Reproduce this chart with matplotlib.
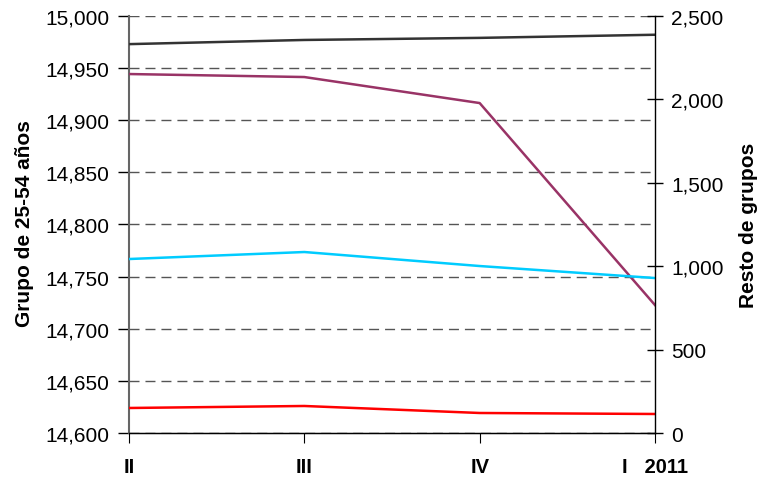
import matplotlib
matplotlib.use("Agg")
import matplotlib.pyplot as plt

plt.rcParams['font.family'] = ['Liberation Sans', 'DejaVu Sans']

# Data
quarters = ['II', 'III', 'IV', 'I']
year_label = '2011'
grupo_25_54 = [14973, 14977, 14979, 14982]      # left axis
resto_purple = [2152, 2134, 1978, 767]          # right axis
resto_cyan = [1043, 1085, 1001, 929]
resto_red = [150, 162, 120, 114]

fig = plt.figure(figsize=(7.61, 4.81), dpi=100)
ax = fig.add_axes([0.1695, 0.0977, 0.8607 - 0.1695, 0.9647 - 0.0977])
ax2 = ax.twinx()

x = range(len(quarters))
ax.plot(x, grupo_25_54, color='#333333', lw=1.8, zorder=3)
ax2.plot(x, resto_purple, color='#993366', lw=1.8)
ax2.plot(x, resto_cyan, color='#00CCFF', lw=1.8)
ax2.plot(x, resto_red, color='#FF0000', lw=1.8)

ax.set_xlim(0, len(quarters) - 1)
ax.set_ylim(14600, 15000)
ax.set_yticks(range(14600, 15001, 50))
ax.set_yticklabels([f'{v:,}' for v in range(14600, 15001, 50)])
ax2.set_ylim(0, 2500)
ax2.set_yticks(range(0, 2501, 500))
ax2.set_yticklabels([f'{v:,}' for v in range(0, 2501, 500)])

# last quarter carries the year in the same label
xlabels = quarters[:-1] + [f'{quarters[-1]}   {year_label}']
ax.set_xticks(list(x))
ax.set_xticklabels(xlabels, fontsize=14.5, fontweight='bold')

ax.grid(axis='y', linestyle=(0, (7.2, 4.3)), color='#555555', lw=1)
ax.tick_params(axis='y', labelsize=15, length=8, width=1, direction='out', pad=6)
ax.tick_params(axis='x', length=7, width=0.8, direction='out', pad=10.5)
ax2.tick_params(axis='y', labelsize=15, length=11, width=1, direction='inout', pad=6)

for a in (ax, ax2):
    a.spines['top'].set_visible(False)
ax.spines['left'].set_color('#666666')
ax.spines['left'].set_linewidth(1.5)
ax2.spines['left'].set_visible(False)
ax.spines['right'].set_visible(False)
ax2.spines['right'].set_linewidth(1)
ax.spines['bottom'].set_linewidth(1)

ax.set_ylabel('Grupo de 25-54 años', fontsize=15, fontweight='bold')
ax.yaxis.set_label_coords(-0.18, 0.504)
ax2.set_ylabel('Resto de grupos', fontsize=15, fontweight='bold')
ax2.yaxis.set_label_coords(1.16, 0.5)

fig.savefig('out.png', dpi=100)
